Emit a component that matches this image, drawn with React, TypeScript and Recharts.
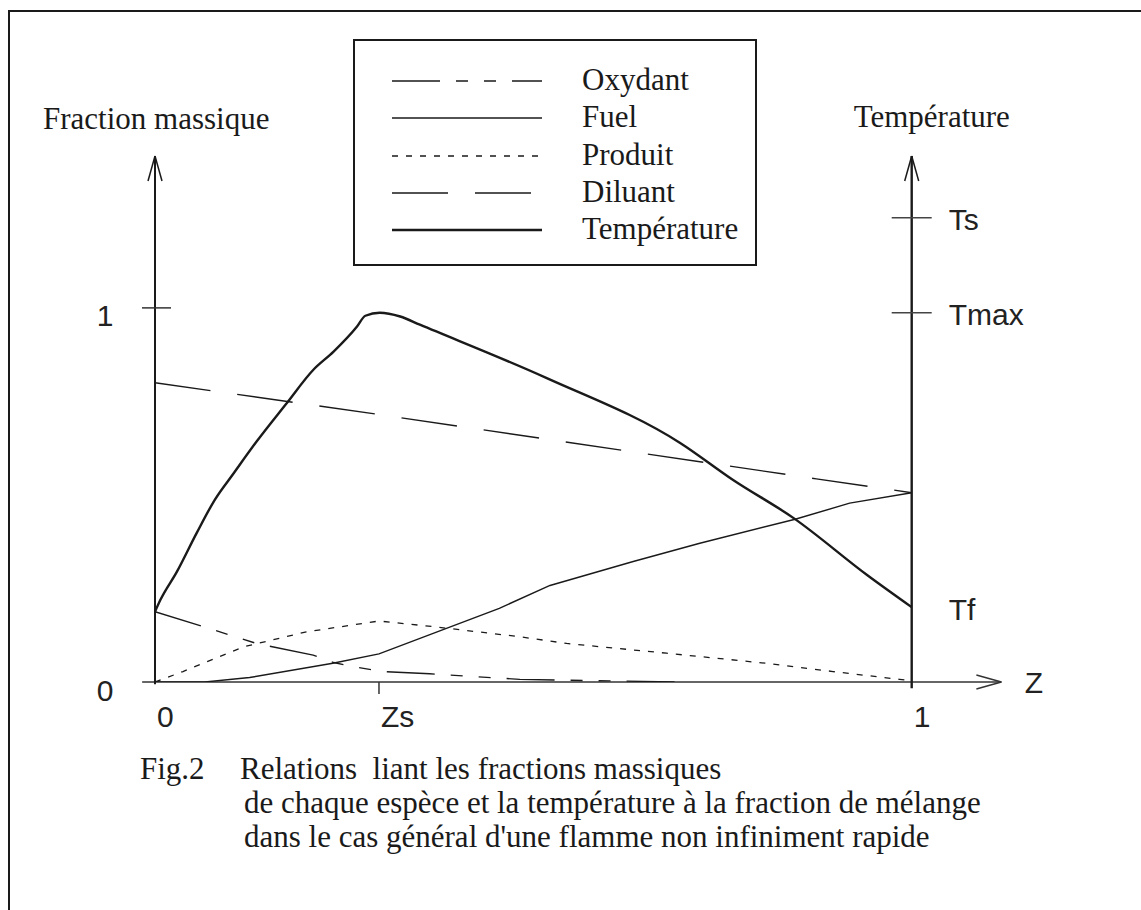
import React from 'react';
import { LineChart, Line, XAxis, YAxis, ReferenceLine, Legend } from 'recharts';

// mixture fraction Z (x) and normalised values (left axis: 0..1 = mass fraction)
const zOxydant = [0, 0.064, 0.134, 0.209, 0.236, 0.262, 0.301, 0.363, 0.426, 0.482, 0.6, 0.7];
const oxydant = [0.188, 0.148, 0.103, 0.072, 0.052, 0.041, 0.028, 0.022, 0.014, 0.007, 0.003, 0];

const zFuel = [0, 0.066, 0.125, 0.235, 0.296, 0.455, 0.522, 0.632, 0.72, 0.846, 0.918, 1];
const fuel = [0, 0, 0.012, 0.05, 0.075, 0.197, 0.258, 0.322, 0.371, 0.435, 0.478, 0.506];

const zProduit = [0, 0.037, 0.117, 0.2, 0.296, 0.368, 0.482, 0.544, 0.676, 0.808, 0.896, 0.984, 1];
const produit = [0, 0.028, 0.094, 0.134, 0.163, 0.148, 0.121, 0.103, 0.077, 0.05, 0.028, 0.007, 0.003];

const zDiluant = [0, 0.296, 0.874, 1];
const diluant = [0.8, 0.715, 0.543, 0.506];

const zTemperature = [0, 0.007, 0.029, 0.055, 0.079, 0.104, 0.134, 0.174, 0.209, 0.236, 0.267, 0.278, 0.297, 0.324, 0.35, 0.517, 0.694, 0.764, 0.844, 0.941, 1];
const temperature = [0.188, 0.219, 0.295, 0.398, 0.487, 0.558, 0.642, 0.745, 0.834, 0.883, 0.95, 0.979, 0.987, 0.977, 0.955, 0.813, 0.639, 0.54, 0.438, 0.286, 0.2];

const X_TICKS = [0, 0.296, 1];
const X_TICK_LABELS = ['0', 'Zs', '1'];
const Y_TICKS = [0, 1];
const Y_TICK_LABELS = ['0', '1'];
const T_TICKS = [1.241, 0.987, 0.2];
const T_TICK_LABELS = ['Ts', 'Tmax', 'Tf'];

const CAPTION = [
  'Relations  liant les fractions massiques',
  'de chaque espèce et la température à la fraction de mélange',
  "dans le cas général d'une flamme non infiniment rapide",
];

const Y_MAX = 1.406;
const X_ARROW = 1.1185;
const PX_PER_Z = 756.7;
const PX_PER_V = 374.1;

const SERIF = '"Liberation Serif", "Times New Roman", serif';
const SANS = '"Liberation Sans", Arial, sans-serif';
const INK = '#1a1a1a';

const toPoints = (zs: number[], vs: number[]) => zs.map((z, i) => ({ z, v: vs[i] }));

const SERIES = [
  { key: 'oxydant', name: 'Oxydant', data: toPoints(zOxydant, oxydant), dash: '48 16 12 16 12 16', width: 1.4, axis: 0, curve: 'linear' },
  { key: 'fuel', name: 'Fuel', data: toPoints(zFuel, fuel), dash: undefined, width: 1.4, axis: 0, curve: 'linear' },
  { key: 'produit', name: 'Produit', data: toPoints(zProduit, produit), dash: '6 8', width: 1.3, axis: 0, curve: 'linear' },
  { key: 'diluant', name: 'Diluant', data: toPoints(zDiluant, diluant), dash: '56 27', width: 1.4, axis: 0, curve: 'linear' },
  { key: 'temperature', name: 'Température', data: toPoints(zTemperature, temperature), dash: undefined, width: 2.4, axis: 'T', curve: 'monotone' },
];

const LegendBox = () => (
  <div
    style={{
      width: 404,
      height: 227,
      boxSizing: 'border-box',
      border: `2px solid ${INK}`,
      position: 'relative',
      background: '#fff',
    }}
  >
    {SERIES.map((s, i) => {
      const cy = 40 + i * 37.3;
      return (
        <React.Fragment key={s.key}>
          <svg width={150} height={6} style={{ position: 'absolute', left: 37, top: cy - 3 }}>
            <line x1={0} x2={150} y1={3} y2={3} stroke={INK} strokeWidth={s.width} strokeDasharray={s.dash} />
          </svg>
          <span
            style={{
              position: 'absolute',
              left: 227,
              top: cy - 19,
              fontFamily: SERIF,
              fontSize: 31,
              lineHeight: '36px',
              color: INK,
              whiteSpace: 'nowrap',
            }}
          >
            {s.name}
          </span>
        </React.Fragment>
      );
    })}
  </div>
);

const LeftTick = (props: any) => {
  const { x, y, payload } = props;
  const label = Y_TICK_LABELS[Y_TICKS.indexOf(payload.value)];
  return (
    <g>
      {payload.value !== 0 && <line x1={x - 13} x2={x + 16} y1={y} y2={y} stroke="#333" strokeWidth={1.5} />}
      <text x={x - 50} y={y + 8} textAnchor="middle" dominantBaseline="central" fontFamily={SANS} fontSize={30} fill="#222">
        {label}
      </text>
    </g>
  );
};

const RightTick = (props: any) => {
  const { x, y, payload } = props;
  const label = T_TICK_LABELS[T_TICKS.indexOf(payload.value)];
  return (
    <g>
      {label !== 'Tf' && <line x1={x - 20} x2={x + 20} y1={y} y2={y} stroke="#444" strokeWidth={1.5} />}
      <text x={x + 37} y={y + 2} textAnchor="start" dominantBaseline="central" fontFamily={SANS} fontSize={30} fill="#222">
        {label}
      </text>
    </g>
  );
};

const BottomTick = (props: any) => {
  const { x, y, payload } = props;
  const label = X_TICK_LABELS[X_TICKS.indexOf(payload.value)];
  return (
    <g>
      {label === 'Zs' && <line x1={x} x2={x} y1={y} y2={y + 12} stroke="#333" strokeWidth={1.5} />}
      <text x={x + 2} y={y + 45} textAnchor="start" fontFamily={SANS} fontSize={30} fill="#222">
        {label}
      </text>
    </g>
  );
};

const ZLabel = (props: any) => {
  const vb = props.viewBox || {};
  return (
    <text x={vb.x + vb.width + 113} y={vb.y} dominantBaseline="central" fontFamily={SANS} fontSize={30} fill="#222">
      Z
    </text>
  );
};

const LeftTitle = (props: any) => {
  const vb = props.viewBox || {};
  return (
    <text x={vb.x - 52} y={vb.y - 27} fontFamily={SERIF} fontSize={31} fill={INK}>
      Fraction massique
    </text>
  );
};

const RightTitle = (props: any) => {
  const vb = props.viewBox || {};
  return (
    <text x={vb.x - 58} y={vb.y - 29} fontFamily={SERIF} fontSize={31} fill={INK}>
      Température
    </text>
  );
};

const seg = (x1: number, y1: number, x2: number, y2: number) => [
  { x: x1, y: y1 },
  { x: x2, y: y2 },
];

const arrowLen = 25;
const arrowHalf = 7;

const App = () => {
  return (
    <div
      style={{
        position: 'absolute',
        left: 0,
        top: 0,
        width: 1141,
        height: 910,
        background: '#fff',
        overflow: 'hidden',
        fontFamily: SERIF,
      }}
    >
      {/* scanned page frame */}
      <div
        style={{
          position: 'absolute',
          left: 8,
          top: 10,
          width: 1141,
          height: 910,
          borderLeft: `2px solid ${INK}`,
          borderTop: `2px solid ${INK}`,
        }}
      />
      <LineChart
        width={1141}
        height={910}
        margin={{ top: 156, right: 169.3, left: 95, bottom: 178 }}
        style={{ position: 'absolute', left: 0, top: 0 }}
      >
        <XAxis
          type="number"
          dataKey="z"
          domain={[0, 1]}
          ticks={X_TICKS}
          interval={0}
          axisLine={false}
          tickLine={false}
          tickSize={0}
          tickMargin={0}
          height={50}
          tick={<BottomTick />}
          label={ZLabel}
          allowDataOverflow
        />
        <YAxis
          yAxisId={0}
          type="number"
          domain={[0, Y_MAX]}
          ticks={Y_TICKS}
          interval={0}
          axisLine={false}
          tickLine={false}
          tickSize={0}
          tickMargin={0}
          width={60}
          tick={<LeftTick />}
          label={LeftTitle}
          allowDataOverflow
        />
        <YAxis
          yAxisId="T"
          orientation="right"
          type="number"
          domain={[0, Y_MAX]}
          ticks={T_TICKS}
          interval={0}
          axisLine={false}
          tickLine={false}
          tickSize={0}
          tickMargin={0}
          width={60}
          tick={<RightTick />}
          label={RightTitle}
          allowDataOverflow
        />

        {/* axes drawn as arrows */}
        <ReferenceLine segment={seg(-0.017, 0, X_ARROW, 0)} stroke="#333" strokeWidth={1.5} ifOverflow="visible" />
        <ReferenceLine
          segment={seg(X_ARROW, 0, X_ARROW - arrowLen / PX_PER_Z, arrowHalf / PX_PER_V)}
          stroke="#333"
          strokeWidth={1.5}
          ifOverflow="visible"
        />
        <ReferenceLine
          segment={seg(X_ARROW, 0, X_ARROW - arrowLen / PX_PER_Z, -arrowHalf / PX_PER_V)}
          stroke="#333"
          strokeWidth={1.5}
          ifOverflow="visible"
        />
        <ReferenceLine segment={seg(0, -0.006, 0, Y_MAX)} stroke={INK} strokeWidth={2} ifOverflow="visible" />
        <ReferenceLine
          segment={seg(0, Y_MAX, -arrowHalf / PX_PER_Z, Y_MAX - arrowLen / PX_PER_V)}
          stroke={INK}
          strokeWidth={1.5}
          ifOverflow="visible"
        />
        <ReferenceLine
          segment={seg(0, Y_MAX, arrowHalf / PX_PER_Z, Y_MAX - arrowLen / PX_PER_V)}
          stroke={INK}
          strokeWidth={1.5}
          ifOverflow="visible"
        />
        <ReferenceLine segment={seg(1, -0.017, 1, Y_MAX)} stroke={INK} strokeWidth={2.4} ifOverflow="visible" />
        <ReferenceLine
          segment={seg(1, Y_MAX, 1 - arrowHalf / PX_PER_Z, Y_MAX - arrowLen / PX_PER_V)}
          stroke={INK}
          strokeWidth={1.5}
          ifOverflow="visible"
        />
        <ReferenceLine
          segment={seg(1, Y_MAX, 1 + arrowHalf / PX_PER_Z, Y_MAX - arrowLen / PX_PER_V)}
          stroke={INK}
          strokeWidth={1.5}
          ifOverflow="visible"
        />

        {SERIES.map((s) => (
          <Line
            key={s.key}
            yAxisId={s.axis}
            data={s.data}
            dataKey="v"
            name={s.name}
            type={s.curve as any}
            stroke={INK}
            strokeWidth={s.width}
            strokeDasharray={s.dash}
            dot={false}
            activeDot={false}
            isAnimationActive={false}
          />
        ))}

        <Legend
          layout="horizontal"
          verticalAlign="middle"
          align="center"
          content={<LegendBox />}
          wrapperStyle={{ left: 353, top: 39, width: 404, height: 227 }}
        />
      </LineChart>

      {/* caption */}
      <div style={{ position: 'absolute', left: 140, top: 752, fontFamily: SERIF, fontSize: 31, lineHeight: '34px', color: INK }}>
        <span style={{ position: 'absolute', left: 0, top: 0, whiteSpace: 'pre' }}>Fig.2</span>
        {CAPTION.map((line, i) => (
          <span key={i} style={{ position: 'absolute', left: i === 0 ? 100 : 104, top: i * 34, whiteSpace: 'pre' }}>
            {line}
          </span>
        ))}
      </div>
    </div>
  );
};

export default App;
